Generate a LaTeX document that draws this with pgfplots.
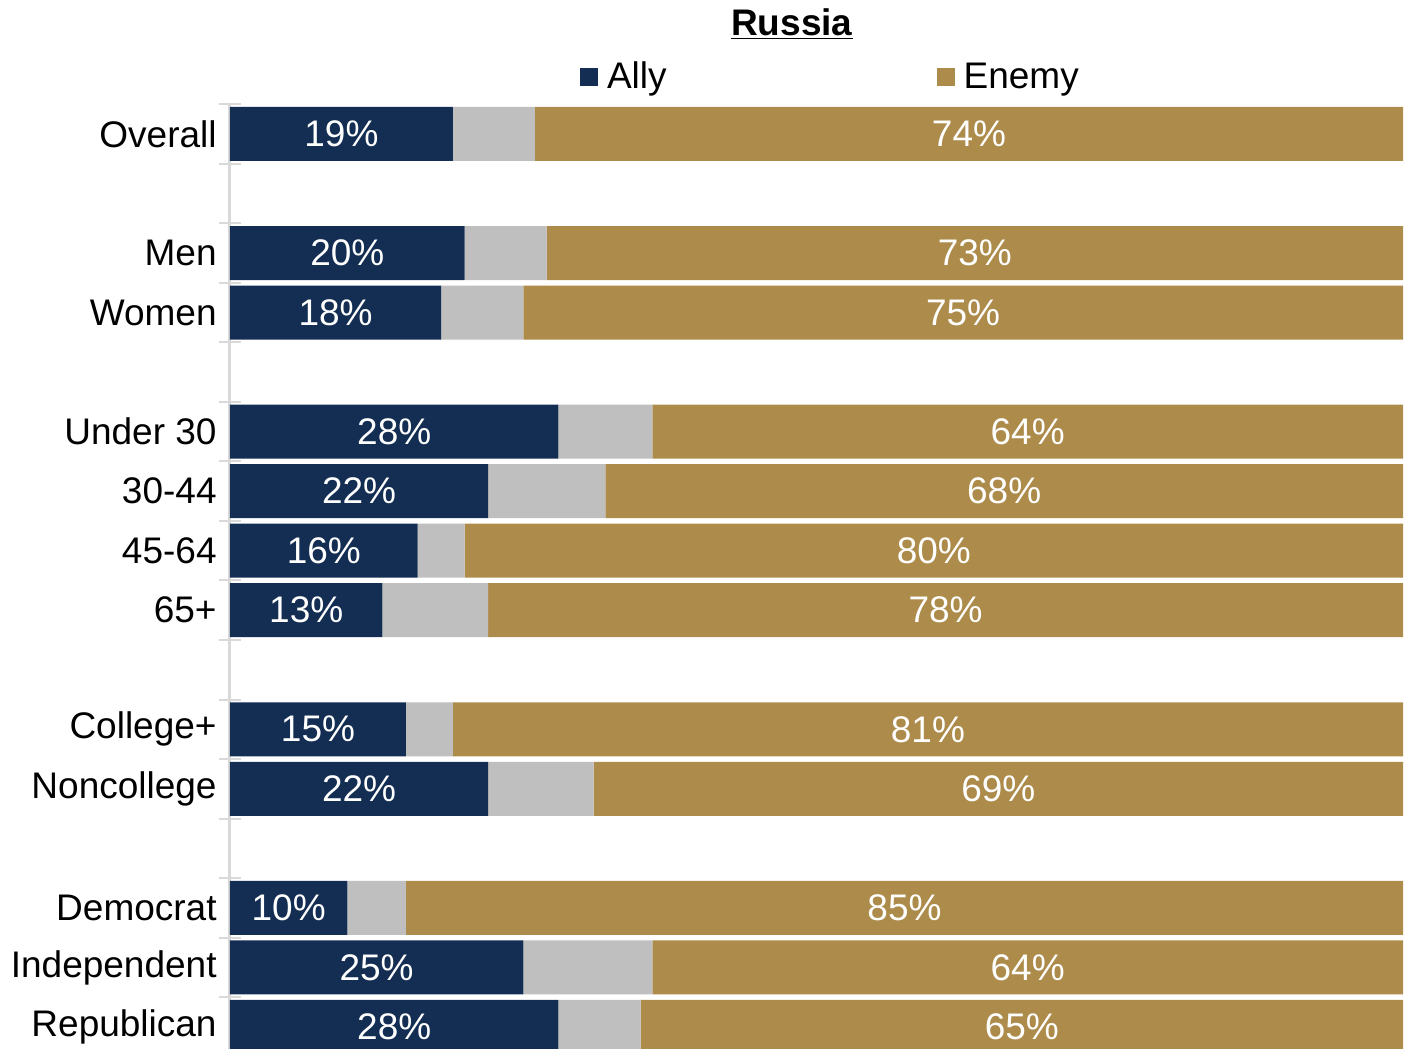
\documentclass[border=0pt]{standalone}
\usepackage{fontspec}
\setmainfont{Liberation Sans}
\usepackage{pgfplots}
\usepackage{pgfplotstable}
\pgfplotsset{compat=1.18}
\definecolor{navy}{HTML}{132E52}
\definecolor{gold}{HTML}{AD8C4B}
\definecolor{midgrey}{HTML}{BFBFBF}
\definecolor{axgrey}{HTML}{D9D9D9}
\newcommand{\fs}{\fontsize{18.5pt}{22pt}\selectfont}
\pgfplotstableread{
pos ally grey enemy
0 19 7 74
2 20 7 73
3 18 7 75
5 28 8 64
6 22 10 68
7 16 4 80
8 13 9 78
10 15 4 81
11 22 9 69
13 10 5 85
14 25 11 64
15 28 7 65
}\datatable
\begin{document}
\begin{tikzpicture}
\begin{axis}[
 scale only axis, width=586.5pt, height=473pt,
 xbar stacked, bar width=27pt,
 xmin=0, xmax=100, ymin=-0.52, ymax=15.37, y dir=reverse,
 axis x line=none, axis y line*=left,
 y axis line style={draw=axgrey, line width=1.5pt, -},
 ytick={0,2,3,5,6,7,8,10,11,13,14,15},
 yticklabels={Overall,Men,Women,Under 30,30-44,45-64,65+,College+,Noncollege,Democrat,Independent,Republican},
 major tick length=0pt,
 minor ytick={-0.5,0.5,...,15.5},
 minor tick length=11pt,
 tick align=center,
 minor tick style={draw=axgrey, line width=1pt},
 major tick style={draw=none},
 yticklabel style={font=\fs, inner sep=0pt, xshift=-6.5pt},
 /pgf/number format/assume math mode=true,
 clip mode=individual,
 legend style={draw=none, fill=none, inner sep=0pt, outer sep=0pt, font=\fs,
   at={(0.2984,1.0275)}, anchor=west,
   /tikz/every odd column/.append style={column sep=2.5pt},
   /tikz/every even column/.append style={column sep=133pt}},
 legend columns=2,
 legend cell align=left,
]
\addplot[fill=navy, draw=none,
  point meta=\thisrow{ally},
  nodes near coords={\pgfmathprintnumber{\pgfplotspointmeta}\%},
  every node near coord/.append style={font=\fs, text=white, anchor=center},
  legend image code/.code={\fill[navy] (0pt,-4.5pt) rectangle (9pt,4.5pt);}]
  table[x=ally, y=pos] {\datatable};
\addlegendentry{Ally}
\addplot[fill=midgrey, draw=none, forget plot]
  table[x=grey, y=pos] {\datatable};
\addplot[fill=gold, draw=none,
  point meta=\thisrow{enemy},
  nodes near coords={\pgfmathprintnumber{\pgfplotspointmeta}\%},
  every node near coord/.append style={font=\fs, text=white, anchor=center},
  legend image code/.code={\fill[gold] (0pt,-4.5pt) rectangle (9pt,4.5pt);}]
  table[x=enemy, y=pos] {\datatable};
\addlegendentry{Enemy}
\node[font=\fs\bfseries] at (axis description cs:0.479,1) [yshift=39.5pt] {\underline{Russia}};
\end{axis}
\pgfresetboundingbox
\path ([xshift=-115pt]current axis.south west) rectangle ([xshift=2.5pt,yshift=51.5pt]current axis.north east);
\end{tikzpicture}
\end{document}
